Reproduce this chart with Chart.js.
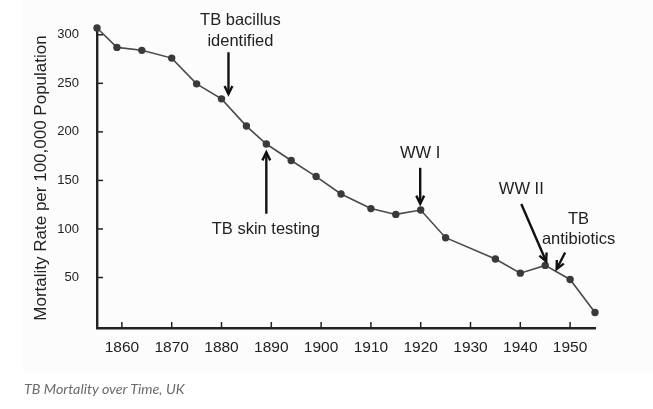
<!DOCTYPE html>
<html>

<head>
  <title>TB Mortality over Time, UK</title>
  <script src="https://cdn.jsdelivr.net/npm/chart.js"></script>
  <style>
    body { margin: 0; background: #fff; }
    #wrap { position: relative; width: 653px; height: 409px; }
    #bg { position: absolute; left: 23px; top: 0; width: 630px; height: 372px; background: #fcfcfc; }
    #myChart { position: absolute; left: 0; top: 0; }
    #caption {
      position: absolute; left: 24px; top: 380px;
      font: italic 14.3px Lato, "Open Sans", sans-serif; color: #6b6b6b;
    }
  </style>
</head>

<body>
  <div id="wrap">
    <div id="bg"></div>
    <canvas id="myChart" width="653" height="409"></canvas>
    <div id="caption">TB Mortality over Time, UK</div>
  </div>
  <script>
    // values
    var years = [1855, 1859, 1864, 1870, 1875, 1880, 1885, 1889, 1894, 1899,
      1904, 1910, 1915, 1920, 1925, 1935, 1940, 1945, 1950, 1955];
    var mortality = [307, 287, 284, 276, 249.5, 234, 206, 187.5, 170.5, 154,
      136, 121, 115, 119.5, 91, 69, 54.5, 62.5, 48, 14];
    var xTicks = [1860, 1870, 1880, 1890, 1900, 1910, 1920, 1930, 1940, 1950];
    var yTicks = [50, 100, 150, 200, 250, 300];

    // notes: text lines and arrows, given in data units
    var notes = [
      { lines: ['TB bacillus', 'identified'], x: 1883.8, y: [314.6, 293.3], from: [1881.4, 282], to: [1881.4, 239] },
      { lines: ['TB skin testing'], x: 1888.9, y: [100], from: [1889, 115.7], to: [1889, 179] },
      { lines: ['WW I'], x: 1919.9, y: [177.5], from: [1919.9, 163], to: [1919.9, 126] },
      { lines: ['WW II'], x: 1940.2, y: [141.1], from: [1940.2, 125.7], to: [1945.2, 66.5] },
      { lines: ['TB', 'antibiotics'], x: 1951.7, y: [110.2, 89.6], from: [1949.0, 75.8], to: [1947.3, 58.7] }
    ];

    var ink = '#222';

    var axisMarks = {
      id: 'axisMarks',
      afterDraw: function (chart) {
        var c = chart.ctx, xs = chart.scales.x, ys = chart.scales.y;
        var a = chart.chartArea;
        c.save();
        c.strokeStyle = ink;
        c.lineWidth = 1.5;
        yTicks.forEach(function (v) {
          var py = ys.getPixelForValue(v);
          c.beginPath(); c.moveTo(a.left, py); c.lineTo(a.left + 6, py); c.stroke();
        });
        xTicks.forEach(function (v) {
          var px = xs.getPixelForValue(v);
          c.beginPath(); c.moveTo(px, a.bottom); c.lineTo(px, a.bottom - 6); c.stroke();
        });
        c.restore();
      }
    };

    var notesPlugin = {
      id: 'notes',
      afterDatasetsDraw: function (chart) {
        var c = chart.ctx, xs = chart.scales.x, ys = chart.scales.y;
        c.save();
        c.fillStyle = ink;
        c.strokeStyle = '#111';
        c.font = '16.5px "Liberation Sans", Arial, sans-serif';
        c.textAlign = 'center';
        c.textBaseline = 'middle';
        notes.forEach(function (n) {
          n.lines.forEach(function (t, i) {
            c.fillText(t, xs.getPixelForValue(n.x), ys.getPixelForValue(n.y[i]));
          });
          var x1 = xs.getPixelForValue(n.from[0]), y1 = ys.getPixelForValue(n.from[1]);
          var x2 = xs.getPixelForValue(n.to[0]), y2 = ys.getPixelForValue(n.to[1]);
          var ang = Math.atan2(y2 - y1, x2 - x1), h = 9;
          c.lineWidth = 2.4;
          c.beginPath(); c.moveTo(x1, y1); c.lineTo(x2, y2); c.stroke();
          c.beginPath();
          c.moveTo(x2 - h * Math.cos(ang - 0.45), y2 - h * Math.sin(ang - 0.45));
          c.lineTo(x2, y2);
          c.lineTo(x2 - h * Math.cos(ang + 0.45), y2 - h * Math.sin(ang + 0.45));
          c.stroke();
        });
        c.restore();
      }
    };

    var ctx = document.getElementById('myChart').getContext('2d');
    var myChart = new Chart(ctx, {
      type: 'line',
      data: {
        datasets: [{
          data: years.map(function (y, i) { return { x: y, y: mortality[i] }; }),
          borderColor: '#4a4a4a',
          borderWidth: 1.6,
          pointRadius: 3.7,
          pointBackgroundColor: '#3a3a3a',
          pointBorderWidth: 0,
          tension: 0,
          clip: false
        }]
      },
      options: {
        responsive: false,
        animation: false,
        layout: { padding: { left: 0, right: 58, top: 28, bottom: 51 } },
        plugins: { legend: { display: false }, tooltip: { enabled: false } },
        scales: {
          x: {
            type: 'linear',
            min: 1855,
            max: 1955,
            afterBuildTicks: function (s) { s.ticks = xTicks.map(function (v) { return { value: v }; }); },
            afterFit: function (s) { s.height = 30; },
            grid: { display: false, drawTicks: false },
            border: { display: true, color: ink, width: 2.4 },
            ticks: {
              padding: 10,
              color: ink,
              font: { family: '"Liberation Sans", Arial, sans-serif', size: 15.5 },
              callback: function (v) { return String(v); }
            }
          },
          y: {
            min: -2,
            max: 307,
            afterBuildTicks: function (s) { s.ticks = yTicks.map(function (v) { return { value: v }; }); },
            afterFit: function (s) { s.width = 97; },
            grid: { display: false, drawTicks: false },
            border: { display: true, color: ink, width: 2.4 },
            ticks: {
              padding: 18,
              color: ink,
              font: { family: '"Liberation Sans", Arial, sans-serif', size: 13 }
            },
            title: {
              display: true,
              text: 'Mortality Rate per 100,000 Population',
              color: ink,
              padding: { top: 31, bottom: 0 },
              font: { family: '"Liberation Sans", Arial, sans-serif', size: 17, weight: 'normal' }
            }
          }
        }
      },
      plugins: [axisMarks, notesPlugin]
    });
  </script>
</body>

</html>
